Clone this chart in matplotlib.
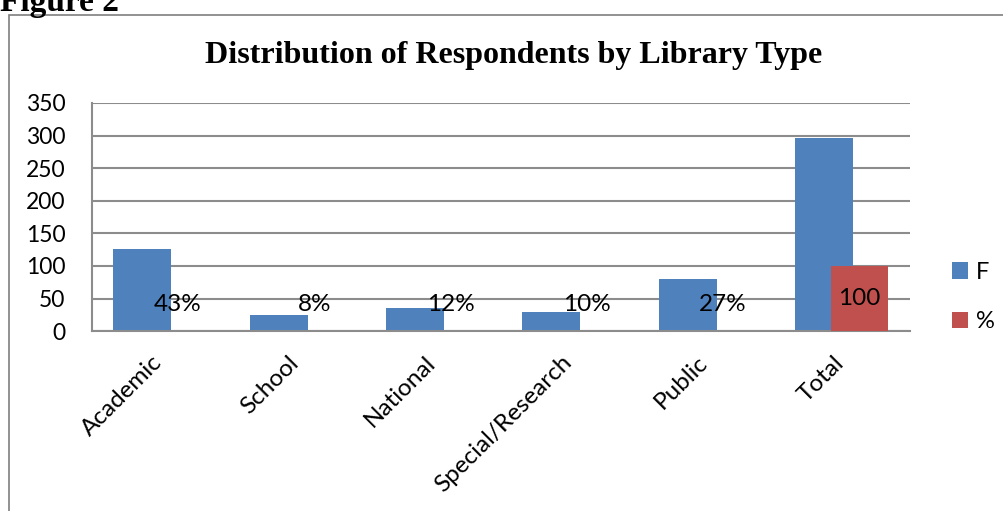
import matplotlib.pyplot as plt
import matplotlib.transforms as mtransforms
import numpy as np
from matplotlib.patches import Rectangle

# data
categories = ["Academic", "School", "National", "Special/Research", "Public", "Total"]
freq = [126, 24, 36, 30, 80, 296]
pct = [0.43, 0.08, 0.12, 0.10, 0.27, 100]
pct_labels = ["43%", "8%", "12%", "10%", "27%", "100"]

BLUE = "#4F81BD"
RED = "#C0504D"
GRID = "#8C8C8C"

plt.rcParams["font.family"] = ["Lato", "DejaVu Sans"]

fig = plt.figure(figsize=(10.04, 5.11), dpi=100)
ax = fig.add_axes([0.0916, 0.352, 0.8147, 0.4465])

x = np.arange(len(categories))
width = 0.425
off = 0.13
ax.bar(x - off, freq, width, color=BLUE, label="F", zorder=2)
ax.bar(x + off, pct, width, color=RED, label="%", zorder=3)

for xi, v, lab in zip(x, pct, pct_labels):
    ax.text(xi + off, max(v / 2, 41), lab, ha="center", va="center", fontsize=17.5, zorder=4)

ax.set_xlim(-0.5, len(categories) - 0.5)
ax.set_ylim(0, 350)
ax.set_yticks(np.arange(0, 351, 50))
ax.yaxis.grid(True, color=GRID, linewidth=1.5, zorder=0)
ax.set_axisbelow(True)
for s in ["top", "right"]:
    ax.spines[s].set_visible(False)
for s in ["left", "bottom"]:
    ax.spines[s].set_color(GRID)
    ax.spines[s].set_linewidth(1.5)
ax.tick_params(axis="y", length=0, labelsize=16.5, pad=19)
ax.set_xticks(x)
ax.set_xticklabels(categories, rotation=45, ha="right", va="top", rotation_mode="anchor")
ax.tick_params(axis="x", length=0, labelsize=17.5, pad=15)
shift = mtransforms.ScaledTranslation(-6 / 72, 0, fig.dpi_scale_trans)
for lbl in ax.get_xticklabels():
    lbl.set_transform(lbl.get_transform() + shift)

ax.legend(loc="center left", frameon=False, fontsize=17, borderpad=0, borderaxespad=0,
          handlelength=0.68, handleheight=0.68, labelspacing=1.2, handletextpad=0.35)
ax.get_legend().set_bbox_to_anchor((1.051, 0.15), transform=ax.transAxes)

fig.text(514 / 1004, 1 - 55 / 511, "Distribution of Respondents by Library Type",
         ha="center", va="center", fontsize=23, fontweight="bold", family="Liberation Serif")
fig.text(0, 1 - 11 / 511, "Figure 2", ha="left", va="baseline", fontsize=24,
         fontweight="bold", family="Liberation Serif")

fig.patches.append(Rectangle((9 / 1004, -0.05), 1.05, 1.05 - 15 / 511,
                             transform=fig.transFigure, fill=False,
                             edgecolor="#7F7F7F", linewidth=1.2))

fig.savefig("out.png", dpi=100)
